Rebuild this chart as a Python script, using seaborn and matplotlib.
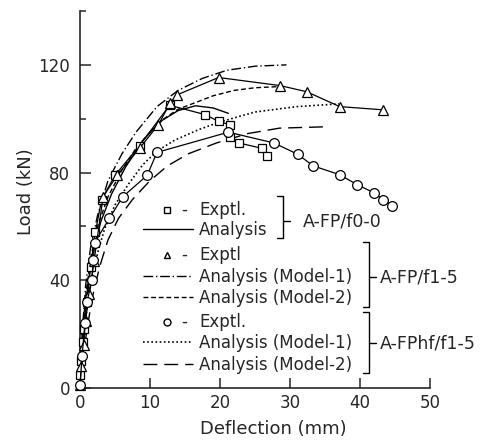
import numpy as np
import pandas as pd
import matplotlib
matplotlib.use("Agg")
import matplotlib.pyplot as plt
import seaborn as sns
from matplotlib.ticker import FixedLocator

# ---------------- data ----------------
# A-FP/f0-0 experimental (squares)
sq_x = [0, 0.2, 0.4, 0.6, 1.0, 1.5, 2.2, 3.1, 5.0, 8.5, 12.8, 17.9, 19.8, 21.4, 21.4, 22.7, 26.0, 26.7]
sq_y = [5, 10, 17, 22, 32, 45, 58, 70, 79, 90, 105, 101.5, 99, 97.8, 93.3, 91, 89, 86]
# A-FP/f0-0 analysis (solid)
an0_x = [0, 0.3, 0.7, 1.2, 2.0, 3.0, 4.5, 6.5, 9.0, 11.5, 14.0, 16.5, 19.0, 21.2]
an0_y = [0, 15, 28, 40, 52, 62, 72, 82, 92, 99, 103, 104.8, 104, 102]

# A-FP/f1-5 experimental (triangles)
tr_x = [0, 0.2, 0.5, 0.8, 1.3, 2.0, 3.3, 5.3, 8.6, 11.2, 12.9, 13.9, 19.8, 28.6, 32.4, 37.1, 43.3]
tr_y = [1, 8, 16, 25, 35, 47, 71, 79, 89.3, 97.8, 105.9, 108.9, 115.3, 112.3, 110, 104.5, 103.3]
# A-FP/f1-5 analysis model-1 (dash-dot) and model-2 (dashed)
m1_x = [0, 0.3, 0.8, 1.5, 2.5, 4.0, 6.0, 8.0, 11.0, 14.0, 17.5, 21.0, 25.0, 29.5]
m1_y = [0, 20, 38, 52, 64, 77, 87, 95, 104.5, 110.5, 115, 118, 119.5, 120]
m2_x = [0, 0.3, 0.8, 1.5, 2.5, 4.0, 6.0, 8.0, 10.0, 12.0, 14.0, 16.5, 19.0, 22.0, 25.0, 29.0]
m2_y = [0, 18, 34, 48, 60, 71, 81, 89, 95, 100, 103.5, 106, 108.5, 110.5, 111.5, 112]

# A-FPhf/f1-5 experimental (circles)
ci_x = [0, 0.3, 0.7, 1.0, 1.7, 1.9, 2.1, 4.2, 6.1, 9.6, 11.0, 21.2, 27.7, 31.1, 33.3, 37.1, 39.6, 42.0, 43.3, 44.6]
ci_y = [1, 12, 24, 32, 40, 47.6, 54, 63, 71, 79, 87.5, 95, 91, 86.8, 82.5, 79.2, 75.5, 72.5, 70, 67.7]
# A-FPhf/f1-5 analysis model-1 (dotted) and model-2 (long dash)
hf1_x = [0, 0.3, 0.8, 1.5, 2.5, 3.5, 5.0, 7.0, 9.0, 11.0, 13.5, 17.0, 20.0, 25.0, 31.0, 37.0]
hf1_y = [0, 12, 26, 38, 50, 59, 68, 76, 83, 88, 92, 96, 98.8, 102.5, 104.5, 105.5]
hf2_x = [0, 0.4, 1.0, 1.8, 2.8, 4.0, 5.5, 7.5, 10.0, 12.5, 15.5, 19.5, 24.0, 28.5, 35.0]
hf2_y = [0, 10, 22, 34, 45, 55, 63, 70, 77, 82.5, 87, 91, 94.5, 96.5, 97]

x_ticks = [0, 10, 20, 30, 40, 50]
y_major = [0, 40, 80, 120]
y_minor = [20, 60, 100, 140]

legend_rows = ["Exptl.", "Analysis", "Exptl", "Analysis (Model-1)", "Analysis (Model-2)",
               "Exptl.", "Analysis (Model-1)", "Analysis (Model-2)"]
group_labels = ["A-FP/f0-0", "A-FP/f1-5", "A-FPhf/f1-5"]

# ---------------- style ----------------
sns.set_style("ticks", {"xtick.direction": "in", "ytick.direction": "in"})
plt.rcParams['font.family'] = ['DejaVu Sans']
plt.rcParams['xtick.direction'] = 'in'
plt.rcParams['ytick.direction'] = 'in'

W, H = 494, 443
fig = plt.figure(figsize=(W / 100, H / 100), dpi=100)
ax = fig.add_axes([80 / W, (H - 388) / H, 350 / W, 377 / H])

LW = 1.0
dash_styles = {
    "solid": None,
    "dashdot": (7, 2, 1, 2),
    "dashed": (3.5, 2),
    "dotted": (1, 1.5),
    "longdash": (10, 5),
}


def curve(x, y, style):
    sns.lineplot(x=x, y=y, ax=ax, sort=False, estimator=None, color="black", lw=LW)
    ln = ax.lines[-1]
    if dash_styles[style] is not None:
        ln.set_dashes(dash_styles[style])
    if style == "dotted":
        ln.set_linewidth(1.2)
    ln.set_clip_on(False)
    return ln


def exptl(x, y, marker, ms):
    sns.lineplot(x=x, y=y, ax=ax, sort=False, estimator=None, color="black", lw=0.9,
                 marker=marker, markersize=ms, markerfacecolor="white",
                 markeredgecolor="black", markeredgewidth=0.9)
    ln = ax.lines[-1]
    ln.set_clip_on(False)
    ln.set_zorder(5)
    return ln


curve(an0_x, an0_y, "solid")
curve(m1_x, m1_y, "dashdot")
curve(m2_x, m2_y, "dashed")
curve(hf1_x, hf1_y, "dotted")
curve(hf2_x, hf2_y, "longdash")

exptl(sq_x, sq_y, "s", 6.3)
exptl(tr_x, tr_y, "^", 7)
exptl(ci_x, ci_y, "o", 7)

ax.set_xlim(0, 50)
ax.set_ylim(0, 140)
sns.despine(ax=ax)
ax.xaxis.set_major_locator(FixedLocator(x_ticks))
ax.yaxis.set_major_locator(FixedLocator(y_major))
ax.yaxis.set_minor_locator(FixedLocator(y_minor))
ax.tick_params(axis="x", which="major", direction="in", length=7, width=1.1, labelsize=12, pad=4)
ax.tick_params(axis="y", which="major", direction="in", length=8, width=1.1, labelsize=12, pad=7)
ax.tick_params(axis="y", which="minor", direction="in", length=4, width=1.1)
for s in ("left", "bottom"):
    ax.spines[s].set_linewidth(1.2)

ax.set_xlabel("Deflection (mm)", fontsize=13)
ax.set_ylabel("Load (kN)", fontsize=13)
ax.xaxis.set_label_coords((273 - 80) / 350, (388 - 420) / 377)
ax.yaxis.set_label_coords((35 - 80) / 350, (388 - 192) / 377)


# ---------------- legend (layout in pixel positions -> axes fraction) ----------------
def ap(px, py):
    return (px - 80) / 350, (388 - py) / 377


tr = ax.transAxes
baselines = [215, 235, 260, 282, 303, 327, 348, 370]
text_x = 199
handles = ["s", "solid", "^", "dashdot", "dashed", "o", "dotted", "longdash"]
for lab, base, hnd in zip(legend_rows, baselines, handles):
    tx, ty = ap(text_x, base)
    ax.text(tx, ty, lab, transform=tr, fontsize=12, ha="left", va="baseline")
    if hnd in ("s", "^", "o"):
        mx, my = ap(167, base - 5)
        ax.plot([mx], [my], transform=tr, marker=hnd, ms=5, mfc="white", mec="black",
                mew=1.0, ls="none", clip_on=False)
        dx, dy = ap(181, base)
        ax.text(dx, dy, "-", transform=tr, fontsize=12, ha="left", va="baseline")
    else:
        x0, y0 = ap(143, base - 6.5)
        x1, _ = ap(193, base - 6.5)
        ln, = ax.plot([x0, x1], [y0, y0], transform=tr, color="black", lw=LW, clip_on=False)
        if dash_styles[hnd] is not None:
            ln.set_dashes(dash_styles[hnd])
        if hnd == "dotted":
            ln.set_linewidth(1.2)

# brackets
brackets = [(283, 196, 238, 221, 303, 227),
            (369, 242, 307, 277, 380, 282),
            (369, 312, 373, 343, 380, 348)]
for (bx, top, bot, mid, lx, lb), glab in zip(brackets, group_labels):
    pts = [ap(bx - 6, top), ap(bx, top), ap(bx, bot), ap(bx - 6, bot)]
    ax.plot([p[0] for p in pts], [p[1] for p in pts], transform=tr, color="black",
            lw=1.0, clip_on=False)
    m0, m1 = ap(bx, mid), ap(bx + 7, mid)
    ax.plot([m0[0], m1[0]], [m0[1], m1[1]], transform=tr, color="black", lw=1.0, clip_on=False)
    gx, gy = ap(lx, lb)
    ax.text(gx, gy, glab, transform=tr, fontsize=12.5, ha="left", va="baseline")

fig.savefig("out.png", dpi=100)
